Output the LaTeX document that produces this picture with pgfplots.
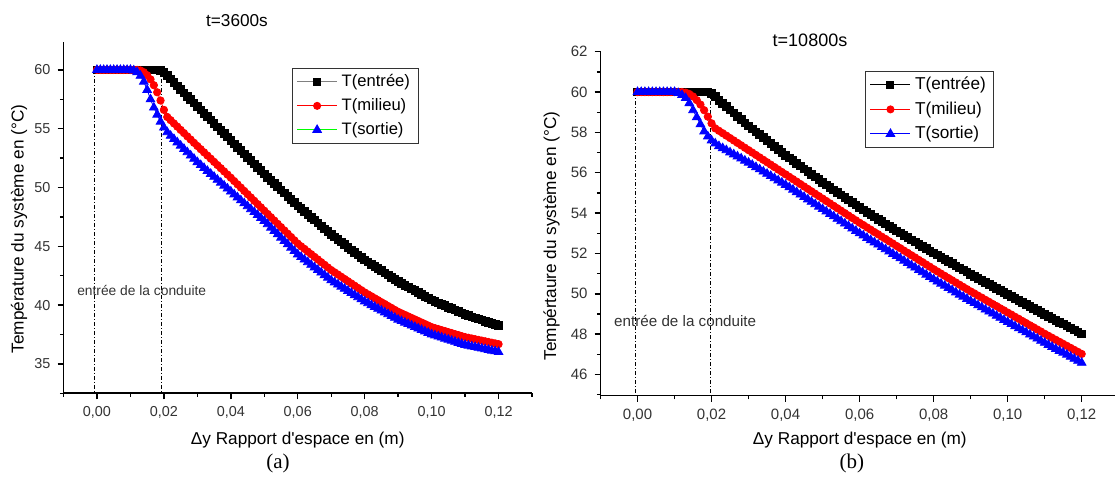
\documentclass[border=0pt]{standalone}
\usepackage{fontspec}
\setmainfont{Liberation Sans}
\newfontfamily\capfont{Liberation Serif}
\usepackage{pgfplots}
\usepackage{pgfplotstable}
\pgfplotsset{compat=1.18}

% t=3600s : x  T(entree)  T(milieu)  T(sortie)
\pgfplotstableread{
x E M S
0.000 60.00 60.00 60.00
0.001 60.00 60.00 60.00
0.002 60.00 60.00 60.00
0.003 60.00 60.00 60.00
0.004 60.00 60.00 60.00
0.005 60.00 60.00 60.00
0.006 60.00 60.00 60.00
0.007 60.00 60.00 60.00
0.008 60.00 60.00 60.00
0.009 60.00 60.00 60.00
0.010 60.00 60.00 60.00
0.011 60.00 60.00 59.95
0.012 60.00 60.00 59.80
0.013 60.00 59.95 59.50
0.014 60.00 59.80 59.00
0.015 60.00 59.55 58.30
0.016 60.00 59.20 57.50
0.017 60.00 58.70 56.80
0.018 60.00 58.10 56.20
0.019 59.97 57.40 55.60
0.020 59.80 56.60 55.10
0.021 59.51 56.00 54.70
0.022 59.22 55.73 54.40
0.023 58.93 55.45 54.12
0.024 58.64 55.18 53.84
0.025 58.35 54.90 53.56
0.026 58.06 54.63 53.28
0.027 57.77 54.35 53.00
0.028 57.48 54.08 52.72
0.029 57.19 53.80 52.44
0.030 56.90 53.53 52.16
0.031 56.61 53.26 51.91
0.032 56.32 52.99 51.66
0.033 56.03 52.72 51.41
0.034 55.74 52.45 51.16
0.035 55.45 52.18 50.91
0.036 55.16 51.91 50.66
0.037 54.87 51.64 50.41
0.038 54.58 51.37 50.16
0.039 54.29 51.10 49.91
0.040 54.00 50.83 49.66
0.041 53.72 50.55 49.41
0.042 53.43 50.27 49.16
0.043 53.15 49.99 48.91
0.044 52.86 49.71 48.66
0.045 52.58 49.43 48.41
0.046 52.29 49.15 48.16
0.047 52.01 48.87 47.91
0.048 51.72 48.59 47.66
0.049 51.44 48.31 47.41
0.050 51.15 48.03 47.16
0.051 50.88 47.75 46.88
0.052 50.61 47.47 46.59
0.053 50.34 47.19 46.31
0.054 50.07 46.91 46.02
0.055 49.80 46.63 45.74
0.056 49.53 46.35 45.45
0.057 49.26 46.07 45.17
0.058 48.99 45.79 44.88
0.059 48.72 45.51 44.60
0.060 48.45 45.23 44.31
0.061 48.21 45.00 44.09
0.062 47.96 44.78 43.87
0.063 47.72 44.55 43.65
0.064 47.47 44.33 43.43
0.065 47.23 44.10 43.21
0.066 46.98 43.88 42.99
0.067 46.74 43.65 42.77
0.068 46.49 43.43 42.55
0.069 46.25 43.20 42.33
0.070 46.00 42.98 42.11
0.071 45.79 42.79 41.93
0.072 45.57 42.60 41.75
0.073 45.36 42.41 41.57
0.074 45.14 42.22 41.39
0.075 44.93 42.03 41.21
0.076 44.71 41.84 41.03
0.077 44.50 41.65 40.85
0.078 44.28 41.46 40.67
0.079 44.07 41.27 40.49
0.080 43.85 41.08 40.31
0.081 43.67 40.91 40.16
0.082 43.48 40.75 40.00
0.083 43.30 40.58 39.85
0.084 43.11 40.42 39.69
0.085 42.93 40.25 39.54
0.086 42.74 40.09 39.38
0.087 42.56 39.92 39.23
0.088 42.37 39.76 39.07
0.089 42.19 39.59 38.92
0.090 42.00 39.43 38.76
0.091 41.85 39.30 38.64
0.092 41.69 39.17 38.51
0.093 41.54 39.04 38.39
0.094 41.38 38.91 38.26
0.095 41.23 38.78 38.14
0.096 41.07 38.65 38.01
0.097 40.92 38.52 37.89
0.098 40.76 38.39 37.76
0.099 40.61 38.26 37.64
0.100 40.45 38.13 37.51
0.101 40.33 38.04 37.42
0.102 40.20 37.96 37.33
0.103 40.08 37.87 37.24
0.104 39.95 37.79 37.15
0.105 39.83 37.70 37.06
0.106 39.70 37.62 36.97
0.107 39.58 37.53 36.88
0.108 39.45 37.45 36.79
0.109 39.33 37.36 36.70
0.110 39.20 37.28 36.61
0.111 39.11 37.22 36.55
0.112 39.01 37.16 36.49
0.113 38.92 37.10 36.43
0.114 38.82 37.04 36.37
0.115 38.73 36.98 36.31
0.116 38.63 36.92 36.25
0.117 38.54 36.86 36.19
0.118 38.44 36.80 36.13
0.119 38.35 36.74 36.07
0.120 38.25 36.68 36.01
}\tA

% t=10800s
\pgfplotstableread{
x E M S
0.000 60.00 60.00 60.00
0.001 60.00 60.00 60.00
0.002 60.00 60.00 60.00
0.003 60.00 60.00 60.00
0.004 60.00 60.00 60.00
0.005 60.00 60.00 60.00
0.006 60.00 60.00 60.00
0.007 60.00 60.00 60.00
0.008 60.00 60.00 60.00
0.009 60.00 60.00 60.00
0.010 60.00 60.00 60.00
0.011 60.00 60.00 59.95
0.012 60.00 60.00 59.85
0.013 60.00 59.97 59.70
0.014 60.00 59.90 59.45
0.015 60.00 59.78 59.10
0.016 60.00 59.60 58.75
0.017 60.00 59.38 58.40
0.018 60.00 59.10 58.05
0.019 60.00 58.78 57.80
0.020 59.93 58.45 57.60
0.021 59.78 58.20 57.45
0.022 59.60 58.08 57.32
0.023 59.44 57.96 57.22
0.024 59.28 57.84 57.12
0.025 59.12 57.72 57.01
0.026 58.96 57.60 56.91
0.027 58.80 57.48 56.81
0.028 58.64 57.36 56.71
0.029 58.48 57.24 56.60
0.030 58.32 57.12 56.50
0.031 58.18 57.00 56.39
0.032 58.03 56.88 56.28
0.033 57.89 56.76 56.17
0.034 57.74 56.64 56.06
0.035 57.60 56.52 55.95
0.036 57.45 56.40 55.84
0.037 57.31 56.28 55.73
0.038 57.16 56.16 55.62
0.039 57.02 56.04 55.51
0.040 56.87 55.92 55.40
0.041 56.74 55.80 55.28
0.042 56.60 55.68 55.16
0.043 56.47 55.56 55.04
0.044 56.33 55.44 54.92
0.045 56.20 55.32 54.80
0.046 56.06 55.20 54.68
0.047 55.93 55.08 54.56
0.048 55.79 54.96 54.44
0.049 55.66 54.84 54.32
0.050 55.52 54.72 54.20
0.051 55.40 54.60 54.08
0.052 55.27 54.48 53.96
0.053 55.15 54.36 53.84
0.054 55.02 54.24 53.72
0.055 54.90 54.12 53.60
0.056 54.77 54.00 53.48
0.057 54.65 53.88 53.36
0.058 54.52 53.76 53.24
0.059 54.40 53.64 53.12
0.060 54.27 53.52 53.00
0.061 54.16 53.41 52.89
0.062 54.04 53.29 52.77
0.063 53.93 53.18 52.66
0.064 53.81 53.06 52.55
0.065 53.70 52.95 52.44
0.066 53.58 52.83 52.32
0.067 53.47 52.72 52.21
0.068 53.35 52.60 52.10
0.069 53.24 52.49 51.98
0.070 53.12 52.37 51.87
0.071 53.01 52.26 51.76
0.072 52.90 52.14 51.64
0.073 52.79 52.03 51.53
0.074 52.68 51.91 51.41
0.075 52.57 51.80 51.30
0.076 52.46 51.68 51.18
0.077 52.35 51.57 51.07
0.078 52.24 51.45 50.95
0.079 52.13 51.34 50.84
0.080 52.02 51.22 50.72
0.081 51.92 51.11 50.61
0.082 51.81 51.00 50.50
0.083 51.71 50.89 50.40
0.084 51.60 50.78 50.29
0.085 51.50 50.67 50.18
0.086 51.39 50.56 50.07
0.087 51.29 50.45 49.96
0.088 51.18 50.34 49.86
0.089 51.08 50.23 49.75
0.090 50.97 50.12 49.64
0.091 50.87 50.02 49.54
0.092 50.77 49.91 49.43
0.093 50.67 49.81 49.33
0.094 50.57 49.70 49.22
0.095 50.47 49.60 49.12
0.096 50.37 49.49 49.02
0.097 50.27 49.39 48.91
0.098 50.17 49.28 48.81
0.099 50.07 49.18 48.70
0.100 49.97 49.07 48.60
0.101 49.87 48.97 48.50
0.102 49.77 48.86 48.39
0.103 49.67 48.76 48.29
0.104 49.57 48.65 48.19
0.105 49.47 48.55 48.09
0.106 49.37 48.44 47.98
0.107 49.27 48.34 47.88
0.108 49.17 48.23 47.78
0.109 49.07 48.13 47.67
0.110 48.97 48.02 47.57
0.111 48.88 47.92 47.47
0.112 48.78 47.82 47.37
0.113 48.69 47.72 47.27
0.114 48.59 47.62 47.17
0.115 48.50 47.52 47.08
0.116 48.40 47.42 46.98
0.117 48.31 47.32 46.88
0.118 48.21 47.22 46.78
0.119 48.12 47.12 46.68
0.120 48.02 47.02 46.58
}\tB

\pgfplotsset{
  /pgf/number format/assume math mode=true,
  panel/.style={
    scale only axis, axis lines=left, axis line style={-, line width=0.8pt, black},
    tick align=outside, major tick length=3pt, minor tick length=1.8pt,
    every tick/.style={black, line width=0.7pt},
    xmin=-0.01, scaled x ticks=false,
    xtick={0,0.02,0.04,0.06,0.08,0.1,0.12},
    minor xtick={-0.01,0.01,0.03,0.05,0.07,0.09,0.11,0.13},
    xticklabel style={/pgf/number format/.cd, fixed, fixed zerofill, precision=2, use comma},
    ticklabel style={black!80},
    xlabel={Δy Rapport d\textquotesingle espace en (m)},
    legend cell align=left,
    legend image code/.code={\draw[mark repeat=2,mark phase=2] plot coordinates {(0pt,0pt)(10pt,0pt)(20pt,0pt)};},
  },
  pE/.style={black, line width=0.4pt, mark=square*, mark size=1.9pt, mark options={solid, fill=black, draw=black}},
  pM/.style={red, line width=0.4pt, mark=*, mark size=1.85pt, mark options={solid, fill=red, draw=red}},
  pS/.style={blue, line width=0.4pt, mark=triangle*, mark size=2.5pt, mark options={solid, fill=blue, draw=blue}},
  vline/.style={black, line width=0.45pt, dash pattern=on 2pt off 1pt on 0.5pt off 1pt},
}

\begin{document}
\begin{tikzpicture}
\path[use as bounding box] (0,0) rectangle (557.5pt,238.5pt);

\begin{axis}[panel, at={(31.75pt,41.85pt)}, anchor=south west,
  width=234.25pt, height=175.8pt, xmax=0.13, ymin=32.5, ymax=62.4,
  ytick={35,40,45,50,55,60}, minor ytick={32.5,37.5,42.5,47.5,52.5,57.5},
  ticklabel style={font=\fontsize{7.2}{8}\selectfont},
  ylabel={Température du système en (°C)},
  label style={font=\fontsize{8.6}{10}\selectfont},
  xlabel style={at={(axis description cs:0.5,-0.133)}, anchor=center},
  ylabel style={at={(axis description cs:-0.095,0.467)}, anchor=center},
  legend style={at={(axis description cs:0.488,0.926)}, anchor=north west,
    draw=black!80, font=\fontsize{8.3}{10}\selectfont, inner xsep=2pt, inner ysep=1pt, row sep=0.5pt}]
\addplot[pE, forget plot] table[x=x, y=E] {\tA};
\addplot[pM, forget plot] table[x=x, y=M] {\tA};
\addplot[pS, forget plot] table[x=x, y=S] {\tA};
\addplot[vline, forget plot] coordinates {(-0.0009,60) (-0.0009,32.5)};
\addplot[vline, forget plot] coordinates {(0.0193,60) (0.0193,32.5)};
\addlegendimage{gray, line width=0.6pt, mark=square*, mark size=1.7pt, mark options={solid, fill=black, draw=black}}
\addlegendentry{T(entrée)}
\addlegendimage{red, line width=0.6pt, mark=*, mark size=1.7pt, mark options={solid, fill=red, draw=red}}
\addlegendentry{T(milieu)}
\addlegendimage{green, line width=0.6pt, mark=triangle*, mark size=2.3pt, mark options={solid, fill=blue, draw=blue}}
\addlegendentry{T(sortie)}
\node[anchor=west, inner sep=0pt, text=black!80, font=\fontsize{6.9}{8}\selectfont] at (axis cs:-0.006,41.26) {entrée de la conduite};
\end{axis}

\begin{axis}[panel, at={(300.25pt,40.65pt)}, anchor=south west,
  width=257.25pt, height=172pt, xmax=0.129, ymin=44.95, ymax=62,
  ytick={46,48,50,52,54,56,58,60,62}, minor ytick={45,47,49,51,53,55,57,59,61},
  ticklabel style={font=\fontsize{7.5}{8}\selectfont},
  ylabel={Tempértaure du système en (°C)},
  label style={font=\fontsize{8.6}{10}\selectfont},
  xlabel style={at={(axis description cs:0.504,-0.129)}, anchor=center},
  ylabel style={at={(axis description cs:-0.095,0.464)}, anchor=center},
  legend style={at={(axis description cs:0.515,0.945)}, anchor=north west,
    draw=black!80, font=\fontsize{8.6}{10}\selectfont, inner xsep=2pt, inner ysep=1pt, row sep=0.5pt}]
\addplot[pE, forget plot] table[x=x, y=E] {\tB};
\addplot[pM, forget plot] table[x=x, y=M] {\tB};
\addplot[pS, forget plot] table[x=x, y=S] {\tB};
\addplot[vline, forget plot] coordinates {(-0.0005,60) (-0.0005,44.95)};
\addplot[vline, forget plot] coordinates {(0.0197,60) (0.0197,44.95)};
\addlegendimage{black, line width=0.6pt, mark=square*, mark size=1.7pt, mark options={solid, fill=black, draw=black}}
\addlegendentry{T(entrée)}
\addlegendimage{red, line width=0.6pt, mark=*, mark size=1.7pt, mark options={solid, fill=red, draw=red}}
\addlegendentry{T(milieu)}
\addlegendimage{blue, line width=0.6pt, mark=triangle*, mark size=2.3pt, mark options={solid, fill=blue, draw=blue}}
\addlegendentry{T(sortie)}
\node[anchor=west, inner sep=0pt, text=black!80, font=\fontsize{7.6}{9}\selectfont] at (axis cs:-0.0064,48.65) {entrée de la conduite};
\end{axis}

\node[font=\fontsize{8.6}{10}\selectfont] at (118.5pt,228pt) {t=3600s};
\node[font=\fontsize{9}{10}\selectfont] at (405pt,218.5pt) {t=10800s};
\node[font={\capfont\fontsize{10.5}{12}\selectfont}] at (139pt,7pt) {(a)};
\node[font={\capfont\fontsize{10.5}{12}\selectfont}] at (425.9pt,7pt) {(b)};
\end{tikzpicture}
\end{document}
